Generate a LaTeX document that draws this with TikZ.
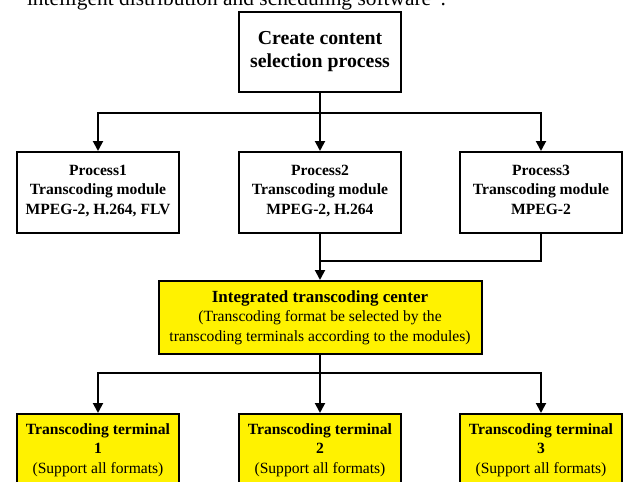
\documentclass[tikz,border=0pt]{standalone}
\usepackage{fontspec}
\setmainfont{Liberation Serif}
\usepackage{tikz}
\usetikzlibrary{arrows.meta}

\begin{document}
\begin{tikzpicture}[x=0.5pt, y=-0.5pt, line width=1pt,
    box/.style={draw, rectangle, align=center, inner sep=0pt,
        minimum width=81pt, minimum height=40.5pt,
        font=\bfseries\fontsize{7.8}{9.75}\selectfont},
    ybox/.style={box, fill=yellow},
    arr/.style={-{Triangle[length=5pt,width=5pt]}}]
  \useasboundingbox (0,0) rectangle (623,482);
  \clip (0,0) rectangle (623,482);
  % cut-off line of running text above the chart
  \node[anchor=base west, inner sep=0pt, font=\fontsize{10.7}{13}\selectfont] (title) at (26,5)
    {intelligent distribution and scheduling software''.};
  \node[box, minimum height=40pt, font=\bfseries\fontsize{9.9}{11.5}\selectfont] (create) at (320,52)
    {Create content\\selection process};
  \node[box] (p1) at (98,192.5) {Process1\\Transcoding module\\MPEG-2, H.264, FLV\strut};
  \node[box] (p2) at (320,192.5) {Process2\\Transcoding module\\MPEG-2, H.264\strut};
  \node[box] (p3) at (541,192.5) {Process3\\Transcoding module\\MPEG-2\strut};
  \node[ybox, minimum width=161.5pt, minimum height=36.5pt] (center) at (320,317.5)
    {{\fontsize{8.5}{9.75}\selectfont Integrated transcoding center}\\
     \mdseries (Transcoding format be selected by the\\
     \mdseries transcoding terminals according to the modules)};
  \node[ybox, minimum height=36pt, anchor=north] (t1) at (98,413)
    {Transcoding terminal\\1\\\mdseries (Support all formats)};
  \node[ybox, minimum height=36pt, anchor=north] (t2) at (320,413)
    {Transcoding terminal\\2\\\mdseries (Support all formats)};
  \node[ybox, minimum height=36pt, anchor=north] (t3) at (541,413)
    {Transcoding terminal\\3\\\mdseries (Support all formats)};
  % connectors
  \coordinate (fork1) at (320,113);
  \coordinate (merge) at (320,261);
  \coordinate (fork2) at (320,373);
  \draw (create) -- (fork1);
  \draw[arr] (fork1) -| (p1);
  \draw[arr] (fork1) -- (p2);
  \draw[arr] (fork1) -| (p3);
  \draw (p3) |- (merge);
  \draw[arr] (p2) -- (center);
  \draw (center) -- (fork2);
  \draw[arr] (fork2) -| (t1);
  \draw[arr] (fork2) -- (t2);
  \draw[arr] (fork2) -| (t3);
\end{tikzpicture}
\end{document}
